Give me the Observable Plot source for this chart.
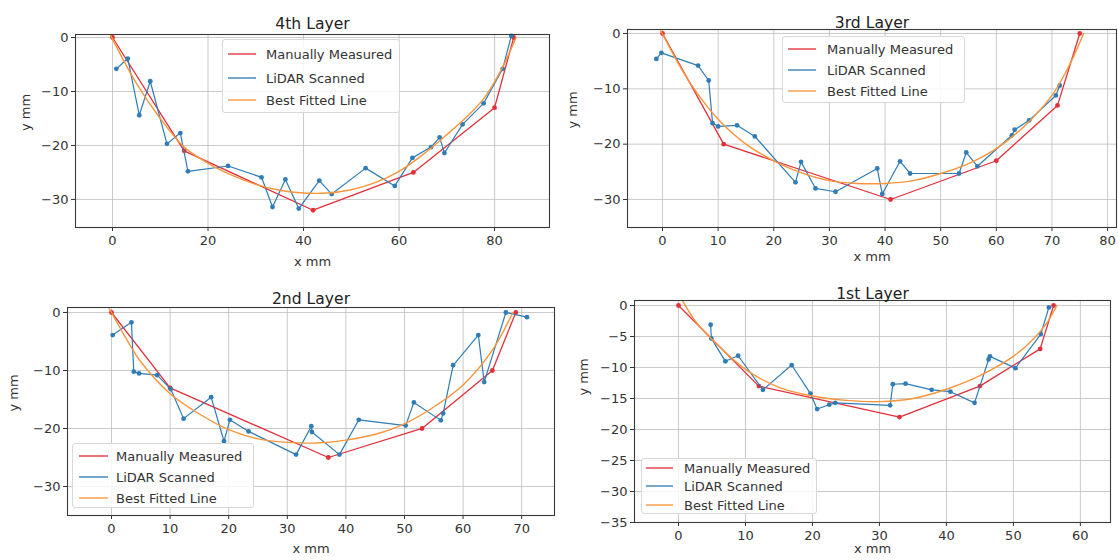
<!DOCTYPE html>
<html>
<head>
<meta charset="utf-8">
<script src="https://cdn.jsdelivr.net/npm/d3@7"></script>
<script src="https://cdn.jsdelivr.net/npm/@observablehq/plot@0.6"></script>
<style>
  html, body { margin: 0; padding: 0; background: #fff; }
  #root { position: relative; width: 1118px; height: 560px; overflow: hidden; font-family: "DejaVu Sans", sans-serif; }
  .panel { position: absolute; }
  .legend { position: absolute; box-sizing: border-box; border: 1px solid #d8d8d8; border-radius: 3px; background: rgba(255,255,255,0.85); font-family: "DejaVu Sans", sans-serif; font-size: 13px; color: #333; }
  .legend .row { position: absolute; left: 0; display: flex; align-items: center; white-space: nowrap; }
</style>
</head>
<body>
<div id="root"></div>
<script>
// ---------- 4th Layer ----------
const l4ManualX = [0, 15, 42, 63, 80, 84];
const l4ManualY = [0, -21, -32, -25, -13, 0];
const l4LidarX = [0.8, 3.2, 5.6, 7.9, 11.4, 14.2, 15.8, 24.2, 31.2, 33.5, 36.2, 39, 43.3, 45.9, 53, 59.1, 62.8, 66.7, 68.5, 69.5, 73.3, 77.7, 81.7, 83.5];
const l4LidarY = [-5.8, -3.9, -14.4, -8.1, -19.7, -17.7, -24.8, -23.8, -25.9, -31.4, -26.3, -31.7, -26.5, -29, -24.2, -27.5, -22.3, -20.3, -18.5, -21.4, -16.1, -12.2, -5.8, 0.3];
const l4FitX = [-0.4, 5, 10, 15, 20, 25, 30, 35, 40, 45, 50, 55, 60, 65, 70, 75, 78, 81.5, 84.5];
const l4FitY = [0.4, -8.5, -15, -20.3, -23.3, -25.5, -27.2, -28.3, -28.8, -28.8, -28.2, -26.9, -24.8, -21.7, -18, -14, -11, -5.8, 0];

// ---------- 3rd Layer ----------
const l3ManualX = [0, 11, 41, 60, 71, 75];
const l3ManualY = [0, -20, -30, -23, -13, 0];
const l3LidarX = [-1.1, -0.2, 6.4, 8.3, 9.0, 10, 13.4, 16.6, 23.9, 24.9, 27.5, 31.1, 38.6, 39.5, 42.7, 44.5, 53.3, 54.6, 56.6, 62.8, 63.3, 65.9, 70.7, 71.4];
const l3LidarY = [-4.6, -3.5, -5.8, -8.5, -16.2, -16.8, -16.6, -18.6, -26.9, -23.2, -28, -28.6, -24.4, -29, -23.1, -25.3, -25.3, -21.5, -24, -18.4, -17.4, -15.7, -11.2, -9.4];
const l3FitX = [-0.3, 2.5, 5, 10, 15, 20, 25, 30, 35, 40, 45, 50, 55, 60, 65, 70, 73, 75.7];
const l3FitY = [0.5, -4.8, -9, -15.5, -20, -23, -25.2, -26.6, -27.1, -27.1, -26.6, -25.3, -23.5, -20.8, -16.8, -11.2, -6, 0];

// ---------- 2nd Layer ----------
const l2ManualX = [0, 10, 37, 53, 65, 69];
const l2ManualY = [0, -13, -25, -20, -10, 0];
const l2LidarX = [0.2, 3.4, 3.8, 4.7, 7.8, 10.1, 12.3, 17, 19.2, 20.2, 23.4, 31.5, 34.1, 34.2, 38.9, 42.2, 50.2, 51.6, 56.2, 56.6, 58.3, 62.6, 63.6, 67.3, 70.9];
const l2LidarY = [-3.9, -1.7, -10.2, -10.5, -10.8, -13.2, -18.3, -14.6, -22.2, -18.5, -20.5, -24.5, -19.6, -20.6, -24.5, -18.5, -19.5, -15.5, -18.6, -17.4, -9.1, -3.9, -12, 0, -0.8];
const l2FitX = [-0.5, 2.5, 5, 10, 15, 20, 25, 30, 35, 40, 45, 50, 55, 60, 65, 68.5];
const l2FitY = [0.9, -4.5, -8.5, -14, -17.5, -20.2, -21.8, -22.4, -22.5, -22, -21, -19.2, -16.3, -12.5, -6.5, 0];

// ---------- 1st Layer ----------
const l1ManualX = [0, 12, 33, 45, 54, 56];
const l1ManualY = [0, -13, -18, -13, -7, 0];
const l1LidarX = [4.8, 4.9, 7, 8.9, 12.6, 16.9, 19.7, 20.7, 22.5, 23.4, 31.6, 32, 33.9, 37.8, 40.6, 44.2, 46.3, 46.5, 50.3, 54.1, 55.3];
const l1LidarY = [-3.1, -5.3, -9, -8.1, -13.6, -9.6, -14.2, -16.7, -16, -15.7, -16.1, -12.7, -12.6, -13.6, -13.9, -15.7, -8.7, -8.2, -10.1, -4.6, -0.3];
const l1FitX = [0.6, 2.5, 5, 10, 15, 20, 25, 30, 35, 40, 45, 50, 53, 55, 56.5];
const l1FitY = [0.8, -2.5, -5.5, -10.3, -13.2, -14.6, -15.3, -15.5, -15, -13.5, -11.3, -8.2, -5.4, -2.8, 0];

// ---------- shared labels / ticks ----------
const seriesNames = ["Manually Measured", "LiDAR Scanned", "Best Fitted Line"];
const xLabel = "x mm";
const yLabel = "y mm";
const titles = ["4th Layer", "3rd Layer", "2nd Layer", "1st Layer"];
const l4XTicks = [0, 20, 40, 60, 80];
const l3XTicks = [0, 10, 20, 30, 40, 50, 60, 70, 80];
const l2XTicks = [0, 10, 20, 30, 40, 50, 60, 70];
const l1XTicks = [0, 10, 20, 30, 40, 50, 60];
const yTicks10 = [0, -10, -20, -30];
const yTicks5 = [0, -5, -10, -15, -20, -25, -30, -35];

const RED = "#e2303a", BLUE = "#2f7cb6", ORANGE = "#f9953a";
const colors = [RED, BLUE, ORANGE];
const zip = (xs, ys) => xs.map((x, i) => ({x, y: ys[i]}));
const fmt = d3.format("d");

function panel(o) {
  const manual = zip(o.mx, o.my), lidar = zip(o.lx, o.ly), fit = zip(o.fx, o.fy);
  const plot = Plot.plot({
    width: 559, height: 280,
    marginLeft: o.m[0], marginTop: o.m[1], marginRight: o.m[2], marginBottom: o.m[3],
    style: {fontFamily: "DejaVu Sans, sans-serif", fontSize: "13px", color: "#333", background: "transparent"},
    x: {domain: o.xd},
    y: {domain: o.yd},
    marks: [
      Plot.gridX({ticks: o.xt, stroke: "#bdbdbd", strokeOpacity: 1, strokeWidth: 0.8}),
      Plot.gridY({ticks: o.yt, stroke: "#bdbdbd", strokeOpacity: 1, strokeWidth: 0.8}),
      Plot.axisX({ticks: o.xt, tickFormat: fmt, tickSize: 4, tickPadding: 4, fontSize: 13, label: null}),
      Plot.axisY({ticks: o.yt, tickFormat: fmt, tickSize: 4, tickPadding: 3, fontSize: 13, label: null}),
      Plot.line(manual, {x: "x", y: "y", stroke: RED, strokeWidth: 1.3}),
      Plot.dot(manual, {x: "x", y: "y", r: 2.4, fill: RED}),
      Plot.line(lidar, {x: "x", y: "y", stroke: BLUE, strokeWidth: 1.2}),
      Plot.dot(lidar, {x: "x", y: "y", r: 2.4, fill: BLUE}),
      Plot.line(fit, {x: "x", y: "y", stroke: ORANGE, strokeWidth: 1.4, curve: "catmull-rom", clip: true}),
      Plot.frame({stroke: "#3a3a3a", strokeWidth: 1.1}),
      Plot.text([o.title], {frameAnchor: "top", dy: o.tdy, fontSize: 15.6, fill: "#222"}),
      Plot.text([xLabel], {frameAnchor: "bottom", dy: o.xldy, fontSize: 13, fill: "#333"}),
      Plot.text([yLabel], {frameAnchor: "left", dx: o.yldx, dy: o.yldy || 0, rotate: -90, fontSize: 13, fill: "#333"})
    ]
  });
  plot.classList.add("panel");
  plot.style.left = o.left + "px";
  plot.style.top = o.top + "px";
  root.appendChild(plot);

  // legend (HTML overlay)
  const lg = document.createElement("div");
  lg.className = "legend";
  const L = o.leg;
  lg.style.left = L.left + "px"; lg.style.top = L.top + "px";
  lg.style.width = L.w + "px"; lg.style.height = L.h + "px";
  seriesNames.forEach((name, i) => {
    const row = document.createElement("div");
    row.className = "row";
    row.style.top = (L.rows[i] - 9) + "px";
    row.style.height = "18px";
    row.style.left = L.sx + "px";
    row.innerHTML = `<svg width="${L.sw}" height="18" style="margin-right:${L.gap}px"><line x1="0" x2="${L.sw}" y1="9" y2="9" stroke="${colors[i]}" stroke-opacity="0.75" stroke-width="1.8"/></svg><span>${name}</span>`;
    lg.appendChild(row);
  });
  root.appendChild(lg);
}

const root = document.getElementById("root");

panel({title: titles[0], mx: l4ManualX, my: l4ManualY, lx: l4LidarX, ly: l4LidarY, fx: l4FitX, fy: l4FitY,
  xd: [-7.75, 91.5], yd: [-35.2, 0.56], xt: l4XTicks, yt: yTicks10,
  m: [75, 34, 10, 53], left: 0, top: 0, tdy: -17, xldy: 38, yldx: -50,
  leg: {left: 222, top: 39, w: 178, h: 74, rows: [14, 38, 60], sx: 5, sw: 28, gap: 10}});

panel({title: titles[1], mx: l3ManualX, my: l3ManualY, lx: l3LidarX, ly: l3LidarY, fx: l3FitX, fy: l3FitY,
  xd: [-6.29, 81.6], yd: [-35.06, 0.72], xt: l3XTicks, yt: yTicks10,
  m: [68, 29, 2, 53], left: 559, top: 0, tdy: -13, xldy: 33, yldx: -55,
  leg: {left: 782, top: 36, w: 183, h: 67, rows: [12, 33, 54], sx: 5, sw: 28, gap: 11}});

panel({title: titles[2], mx: l2ManualX, my: l2ManualY, lx: l2LidarX, ly: l2LidarY, fx: l2FitX, fy: l2FitY,
  xd: [-7.51, 75.6], yd: [-35.0, 0.86], xt: l2XTicks, yt: yTicks10,
  m: [67, 27, 5, 45], left: 0, top: 280, tdy: -15, xldy: 37, yldx: -54,
  leg: {left: 72, top: 443, w: 182, h: 65, rows: [12, 33, 54], sx: 6, sw: 29, gap: 8}});

panel({title: titles[3], mx: l1ManualX, my: l1ManualY, lx: l1LidarX, ly: l1LidarY, fx: l1FitX, fy: l1FitY,
  xd: [-6.57, 64.5], yd: [-35, 0.81], xt: l1XTicks, yt: yTicks5,
  m: [75, 20, 8, 38], left: 559, top: 280, tdy: -13, xldy: 30, yldx: -51, yldy: -16,
  leg: {left: 641, top: 458, w: 176, h: 56, rows: [9, 27, 46], sx: 4, sw: 27, gap: 11}});
</script>
</body>
</html>
